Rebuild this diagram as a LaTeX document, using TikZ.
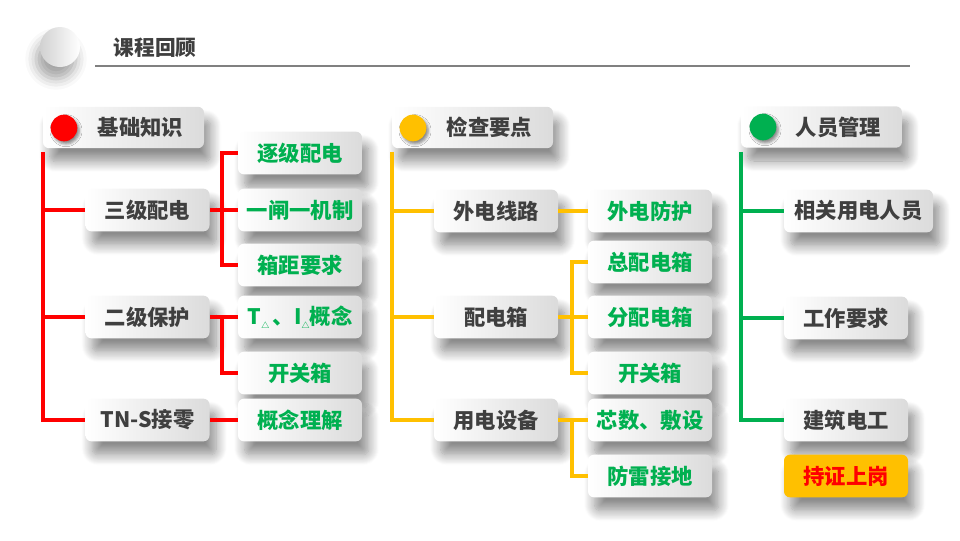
\documentclass[tikz,border=0pt]{standalone}
\usepackage{fontspec}
\setmainfont{Noto Sans CJK SC}[BoldFont={Noto Sans CJK SC Black}]
\usetikzlibrary{shadows.blur}
\definecolor{txtgray}{HTML}{3F3F3F}
\definecolor{lred}{HTML}{FF0000}
\definecolor{lamber}{HTML}{FFC000}
\definecolor{lgreen}{HTML}{00B050}
\newcommand\smalltri{\raisebox{-0.2em}{\fontsize{6}{6}\selectfont △}}

\begin{document}
\begin{tikzpicture}[x=0.75pt, y=-0.75pt,
  box/.style={rounded corners=4.5pt, left color=white, right color=black!14, minimum width=93pt, minimum height=32pt, inner sep=0pt, font=\fontsize{16}{19}\selectfont\bfseries, text=txtgray,
    blur shadow={shadow xshift=5pt, shadow yshift=-10pt, shadow opacity=45, shadow blur steps=12, shadow blur radius=8pt}},
  head/.style={box, minimum height=31pt, text width=89.25pt, inner xsep=15.75pt, align=right},
  sub/.style={box, text=lgreen},
  dot/.style={circle, minimum size=20pt, inner sep=0pt, blur shadow={shadow xshift=1.5pt, shadow yshift=-2pt, shadow opacity=45, shadow blur radius=2pt}},
  lnk/.style={line width=2.8pt}]
  \useasboundingbox (0,0) rectangle (960,540);
  % ---------------- title
  \node[circle, minimum size=30pt, left color=black!18, right color=white, blur shadow={shadow xshift=-3pt, shadow yshift=-9pt, shadow opacity=35, shadow blur radius=8pt}] (ball) at (60,47) {};
  \node[anchor=west, font=\fontsize{15.5}{18}\selectfont\bfseries, text=txtgray] (ttl) at (109,48) {课程回顾};
  \draw[line width=1.5pt, black!50] (95,66) -- (910,66);
  % ---------------- 基础知识
  \node[head] (h1) at (123.5,127.5) {基础知识};
  \node[dot, fill=lred] (p1) at (64,128) {};
  \foreach \n/\yy/\t in {a1/210/三级配电, a2/317/二级保护, a3/420/TN-S接零}
    \node[box] (\n) at (147.5,\yy) {\t};
  \foreach \n/\yy/\t in {b1/153/逐级配电, b2/210/一闸一机制, b3/265/箱距要求, b4/317/{T\smalltri\,、I\smalltri 概念}, b5/373/开关箱, b6/420/概念理解}
    \node[sub] (\n) at (300,\yy) {\t};
  \draw[lnk, lred] ([yshift=-3pt]h1.south west) -- (h1.west |- a3.west) -- (a3.west);
  \foreach \n in {a1,a2}{\draw[lnk, lred] (\n.west) -- (h1.west |- \n.west);}
  \foreach \n/\m in {a1/b1,a1/b2,a1/b3,a2/b4,a2/b5,a3/b6}{\draw[lnk, lred] (\m.west) -- ++(-16,0) |- (\n.east);}
  % ---------------- 检查要点
  \node[head] (h2) at (472.5,127.5) {检查要点};
  \node[dot, fill=lamber] (p2) at (413,128) {};
  \foreach \n/\yy/\t in {c1/211/外电线路, c2/317/配电箱, c3/420/用电设备}
    \node[box] (\n) at (496,\yy) {\t};
  \foreach \n/\yy/\t in {d1/211/外电防护, d2/262/总配电箱, d3/317/分配电箱, d4/373/开关箱, d5/420/芯数、敷设, d6/476/防雷接地}
    \node[sub] (\n) at (650,\yy) {\t};
  \draw[lnk, lamber] ([yshift=-3pt]h2.south west) -- (h2.west |- c3.west) -- (c3.west);
  \foreach \n in {c1,c2}{\draw[lnk, lamber] (\n.west) -- (h2.west |- \n.west);}
  \foreach \n/\m in {c1/d1,c2/d2,c2/d3,c2/d4,c3/d5,c3/d6}{\draw[lnk, lamber] (\m.west) -- ++(-16,0) |- (\n.east);}
  % ---------------- 人员管理
  \node[head] (h3) at (821.5,127) {人员管理};
  \node[dot, fill=lgreen] (p3) at (763,127) {};
  \node[box, minimum width=111.75pt] (e1) at (858.5,211) {相关用电人员};
  \node[box] (e2) at (846,318) {工作要求};
  \node[box] (e3) at (846,420) {建筑电工};
  \node[box, left color=lamber, right color=lamber, text=lred] (e4) at (846,476) {持证上岗};
  \draw[lnk, lgreen] ([yshift=-3pt]h3.south west) -- (h3.west |- e3.west) -- (e3.west);
  \foreach \n in {e1,e2}{\draw[lnk, lgreen] (\n.west) -- (h3.west |- \n.west);}
\end{tikzpicture}
\end{document}
